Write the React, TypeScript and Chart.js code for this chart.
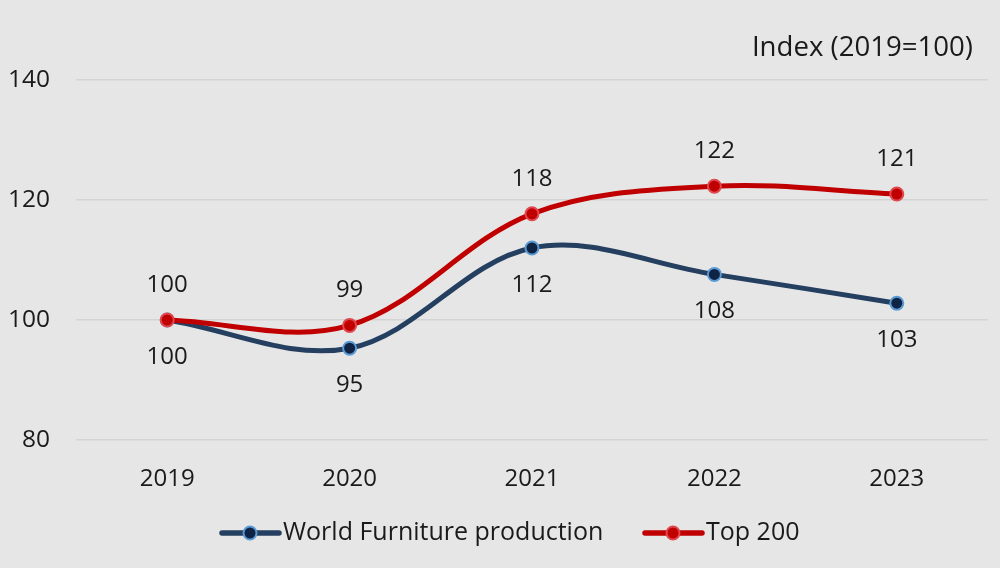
import React, { useEffect, useRef } from "react";
import { Chart, registerables } from "chart.js";

Chart.register(...registerables);

const years = ["2019", "2020", "2021", "2022", "2023"];
const worldValues = [100, 95.3, 112, 107.6, 102.8];
const worldLabels = ["100", "95", "112", "108", "103"];
const top200Values = [100, 99.1, 117.7, 122.3, 121];
const top200Labels = ["100", "99", "118", "122", "121"];
const yTicks = [80, 100, 120, 140];
const unitTitle = "Index (2019=100)";
const seriesNames = ["World Furniture production", "Top 200"];

const FONT = "'Open Sans', 'Noto Sans', sans-serif";
const WORLD_LINE = "#243f60";
const WORLD_FILL = "#0f2444";
const WORLD_BORDER = "#5b9bd5";
const RED_LINE = "#c00000";
const RED_FILL = "#c00000";
const RED_BORDER = "#e0484e";
const TEXT = "#1a1a1a";

const overlayPlugin = {
  id: "overlay",
  afterDatasetsDraw(chart: any) {
    const ctx = chart.ctx;
    ctx.save();
    ctx.font = `24px ${FONT}`;
    ctx.fillStyle = TEXT;
    ctx.textAlign = "center";
    ctx.textBaseline = "middle";
    const m0 = chart.getDatasetMeta(0);
    const m1 = chart.getDatasetMeta(1);
    m0.data.forEach((p: any, i: number) => {
      ctx.fillText(worldLabels[i], p.x, p.y + 37);
    });
    m1.data.forEach((p: any, i: number) => {
      ctx.fillText(top200Labels[i], p.x, p.y - 35);
    });
    // unit title
    ctx.font = `27.6px ${FONT}`;
    ctx.textAlign = "right";
    ctx.fillText(unitTitle, 973, 48);
    // legend
    ctx.font = `25px ${FONT}`;
    const drawItem = (x0: number, y: number, line: string, fill: string, border: string, label: string) => {
      ctx.strokeStyle = line;
      ctx.lineWidth = 5.5;
      ctx.lineCap = "round";
      ctx.beginPath();
      ctx.moveTo(x0, y);
      ctx.lineTo(x0 + 57, y);
      ctx.stroke();
      ctx.beginPath();
      ctx.arc(x0 + 28, y, 6.5, 0, Math.PI * 2);
      ctx.fillStyle = fill;
      ctx.fill();
      ctx.lineWidth = 2;
      ctx.strokeStyle = border;
      ctx.stroke();
      ctx.fillStyle = TEXT;
      ctx.textAlign = "left";
      ctx.fillText(label, x0 + 61, y);
    };
    drawItem(222, 533, WORLD_LINE, WORLD_FILL, WORLD_BORDER, seriesNames[0]);
    drawItem(645, 533, RED_LINE, RED_FILL, RED_BORDER, seriesNames[1]);
    ctx.restore();
  },
};

export default function App() {
  const ref = useRef<HTMLCanvasElement | null>(null);
  useEffect(() => {
    if (!ref.current) return;
    const chart = new Chart(ref.current, {
      type: "line",
      data: {
        labels: years,
        datasets: [
          {
            label: seriesNames[0],
            data: worldValues,
            borderColor: WORLD_LINE,
            borderWidth: 5,
            tension: 0.35,
            pointRadius: 6.5,
            pointBorderWidth: 2,
            pointBackgroundColor: WORLD_FILL,
            pointBorderColor: WORLD_BORDER,
            order: 2,
          },
          {
            label: seriesNames[1],
            data: top200Values,
            borderColor: RED_LINE,
            borderWidth: 5,
            tension: 0.35,
            pointRadius: 6.5,
            pointBorderWidth: 2,
            pointBackgroundColor: RED_FILL,
            pointBorderColor: RED_BORDER,
            order: 1,
          },
        ],
      },
      options: {
        animation: false,
        responsive: false,
        maintainAspectRatio: false,
        layout: { padding: { top: 80, right: 12, left: 0, bottom: 0 } },
        plugins: { legend: { display: false }, tooltip: { enabled: false }, title: { display: false } },
        scales: {
          x: {
            offset: true,
            grid: { display: false, drawTicks: false },
            border: { display: false },
            ticks: { color: TEXT, font: { family: FONT, size: 24 }, padding: 25 },
            afterFit: (s: any) => {
              s.height = 128;
            },
          },
          y: {
            min: 80,
            max: 140,
            afterBuildTicks: (s: any) => {
              s.ticks = yTicks.map((v) => ({ value: v }));
            },
            grid: { color: "#d4d4d4", lineWidth: 1.5, drawTicks: false },
            border: { display: false },
            ticks: { color: TEXT, font: { family: FONT, size: 24.5 }, padding: 26 },
            afterFit: (s: any) => {
              s.width = 76;
            },
          },
        },
      },
      plugins: [overlayPlugin],
    });
    return () => chart.destroy();
  }, []);
  return (
    <div style={{ position: "fixed", left: 0, top: 0, width: 1000, height: 568, background: "#e6e6e6" }}>
      <canvas ref={ref} width={1000} height={568} style={{ width: 1000, height: 568, display: "block" }} />
    </div>
  );
}
